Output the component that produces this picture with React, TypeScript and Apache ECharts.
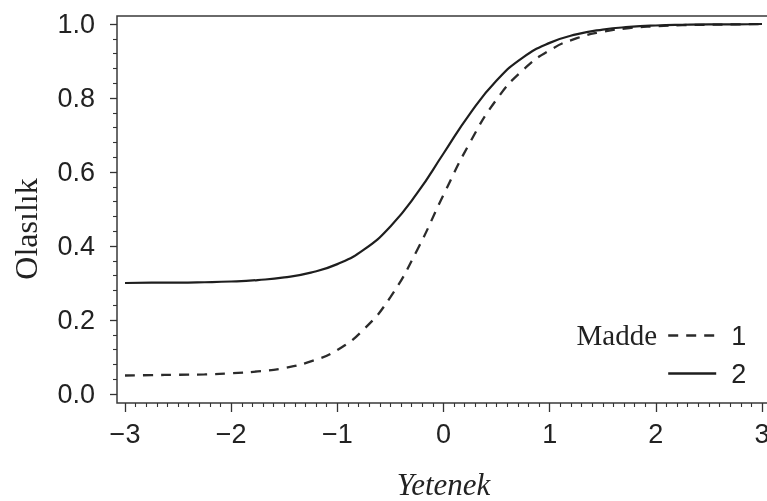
import { useEffect, useRef } from 'react';
import * as echarts from 'echarts';

// Ability values (theta) at which the curves were read
const theta = [-3, -2.75, -2.5, -2.25, -2, -1.75, -1.5, -1.25, -1, -0.75, -0.5, -0.25, 0, 0.25, 0.5, 0.75, 1, 1.25, 1.5, 1.75, 2, 2.25, 2.5, 2.75, 3];
// Madde 1 (dashed)
const item1 = [0.050, 0.051, 0.052, 0.053, 0.056, 0.061, 0.070, 0.088, 0.119, 0.175, 0.262, 0.388, 0.538, 0.680, 0.796, 0.876, 0.929, 0.961, 0.979, 0.989, 0.994, 0.997, 0.998, 0.999, 1.0];
// Madde 2 (solid)
const item2 = [0.300, 0.301, 0.301, 0.302, 0.304, 0.308, 0.315, 0.328, 0.351, 0.390, 0.453, 0.542, 0.650, 0.758, 0.847, 0.910, 0.949, 0.972, 0.985, 0.992, 0.996, 0.998, 0.999, 0.999, 1.0];

const seriesNames = ['1', '2'];
const legendTitle = 'Madde';
const xName = 'Yetenek';
const yName = 'Olasılık';

export default function App() {
  const ref = useRef<HTMLDivElement>(null);
  useEffect(() => {
    const chart = echarts.init(ref.current!, undefined, { renderer: 'svg' });
    const sans = '"Liberation Sans", Arial, Helvetica, sans-serif';
    const serif = '"Liberation Serif", "Times New Roman", serif';
    const fmtX = (v: number) => (v < 0 ? '\u2212' + Math.abs(v) : String(v));
    const tickColor = '#333';
    chart.setOption({
      animation: false,
      grid: [
        { left: 125, top: 24, width: 637, height: 370, containLabel: false, outerBoundsMode: 'none' },
        { left: 117, top: 16, width: 680, height: 387, containLabel: false, outerBoundsMode: 'none', show: true, borderColor: '#3a3a3a', borderWidth: 1.5, backgroundColor: 'transparent' },
      ],
      xAxis: [
        {
          type: 'value', gridIndex: 0, min: -3, max: 3, interval: 1, offset: 9,
          axisLine: { show: false, onZero: false },
          axisTick: { show: true, length: 9, lineStyle: { color: tickColor, width: 1.3 } },
          minorTick: { show: true, splitNumber: 10, length: 4, lineStyle: { color: tickColor, width: 1.1 } },
          splitLine: { show: false },
          axisLabel: { formatter: fmtX, fontFamily: sans, fontSize: 27, color: '#222', margin: 17 },
          name: xName, nameLocation: 'middle', nameGap: 66,
          nameTextStyle: { fontFamily: serif, fontStyle: 'italic', fontSize: 31, color: '#222' },
        },
        { type: 'value', gridIndex: 1, min: 0, max: 1, show: false },
      ],
      yAxis: [
        {
          type: 'value', gridIndex: 0, min: 0, max: 1, interval: 0.2, offset: 8,
          axisLine: { show: false, onZero: false },
          axisTick: { show: true, length: 7, lineStyle: { color: tickColor, width: 1.3 } },
          minorTick: { show: true, splitNumber: 5, length: 4, lineStyle: { color: tickColor, width: 1.1 } },
          splitLine: { show: false },
          axisLabel: { formatter: (v: number) => v.toFixed(1), fontFamily: sans, fontSize: 27, color: '#222', margin: 22 },
        },
        { type: 'value', gridIndex: 1, min: 0, max: 1, show: false },
      ],
      legend: {
        data: seriesNames, orient: 'vertical', left: 662, top: 317,
        itemWidth: 48, itemHeight: 20, itemGap: 11,
        itemStyle: { opacity: 0 },
        lineStyle: { width: 2.4 },
        textStyle: { fontFamily: sans, fontSize: 27, color: '#222', padding: [0, 0, 0, 10] },
      },
      graphic: [
        { type: 'text', x: 657, y: 335, style: { text: legendTitle, font: `29px ${serif}`, fill: '#222', align: 'right', verticalAlign: 'middle' } },
        { type: 'text', x: 26, y: 229, rotation: Math.PI / 2, style: { text: yName, font: `32px ${serif}`, fill: '#222', align: 'center', verticalAlign: 'middle' } },
      ],
      series: [
        {
          name: seriesNames[0], type: 'line', xAxisIndex: 0, yAxisIndex: 0,
          data: theta.map((t, i) => [t, item1[i]]), smooth: true,
          symbol: 'none', clip: false, color: '#2b2b2b',
          lineStyle: { color: '#2b2b2b', width: 2.3, type: [10, 8] },
        },
        {
          name: seriesNames[1], type: 'line', xAxisIndex: 0, yAxisIndex: 0,
          data: theta.map((t, i) => [t, item2[i]]), smooth: true,
          symbol: 'none', clip: false, color: '#1e1e1e',
          lineStyle: { color: '#1e1e1e', width: 2.2 },
        },
      ],
    });
    return () => chart.dispose();
  }, []);
  return <div ref={ref} style={{ position: 'fixed', left: 0, top: 0, width: 767, height: 501 }} />;
}
